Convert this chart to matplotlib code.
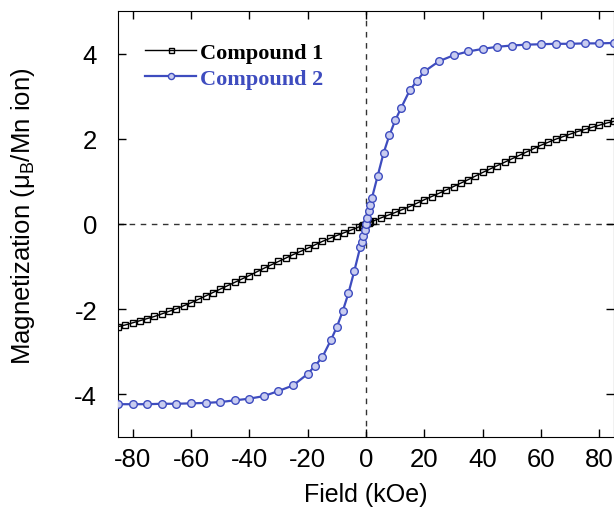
import matplotlib
matplotlib.use("Agg")
import matplotlib.pyplot as plt

plt.rcParams["axes.unicode_minus"] = False

# Compound 1 (black squares)
field_1 = [-85, -82.5, -80, -77.5, -75, -72.5, -70, -67.5, -65, -62.5, -60, -57.5,
           -55, -52.5, -50, -47.5, -45, -42.5, -40, -37.5, -35, -32.5, -30, -27.5,
           -25, -22.5, -20, -17.5, -15, -12.5, -10, -7.5, -5, -2.5, -1.5, -1, -0.5, 0,
           0.5, 1, 1.5, 2.5, 5, 7.5, 10, 12.5, 15, 17.5, 20, 22.5, 25, 27.5, 30, 32.5,
           35, 37.5, 40, 42.5, 45, 47.5, 50, 52.5, 55, 57.5, 60, 62.5, 65, 67.5, 70,
           72.5, 75, 77.5, 80, 82.5, 85]
mag_1 = [-2.41, -2.37, -2.32, -2.27, -2.22, -2.17, -2.11, -2.05, -1.99, -1.92, -1.85, -1.77,
         -1.69, -1.61, -1.53, -1.45, -1.37, -1.29, -1.21, -1.125, -1.04, -0.96, -0.88, -0.80,
         -0.72, -0.645, -0.57, -0.49, -0.41, -0.34, -0.27, -0.205, -0.14, -0.07, -0.04, -0.03, -0.015, 0.0,
         0.015, 0.03, 0.04, 0.07, 0.14, 0.205, 0.27, 0.34, 0.41, 0.49, 0.57, 0.645, 0.72, 0.80, 0.88, 0.96,
         1.04, 1.125, 1.21, 1.29, 1.37, 1.45, 1.53, 1.61, 1.69, 1.77, 1.85, 1.92, 1.99, 2.05, 2.11,
         2.17, 2.22, 2.27, 2.32, 2.37, 2.41]

# Compound 2 (blue circles)
field_2 = [-85, -80, -75, -70, -65, -60, -55, -50, -45, -40, -35, -30, -25, -20, -17.5,
           -15, -12, -10, -8, -6, -4, -2, -1.5, -1, -0.5, 0, 0.5, 1, 1.5, 2, 4, 6, 8,
           10, 12, 15, 17.5, 20, 25, 30, 35, 40, 45, 50, 55, 60, 65, 70, 75, 80, 85]
mag_2 = [-4.23, -4.23, -4.23, -4.22, -4.22, -4.21, -4.20, -4.18, -4.14, -4.10, -4.04, -3.92,
         -3.79, -3.52, -3.33, -3.13, -2.72, -2.42, -2.05, -1.62, -1.10, -0.55, -0.42, -0.28,
         -0.14, 0.0, 0.15, 0.3, 0.45, 0.6, 1.13, 1.66, 2.08, 2.43, 2.72, 3.14, 3.36, 3.58,
         3.82, 3.96, 4.05, 4.11, 4.16, 4.19, 4.21, 4.22, 4.23, 4.23, 4.24, 4.24, 4.25]

labels = ["Compound 1", "Compound 2"]
blue = "#3e4cbf"

fig = plt.figure(figsize=(6.14, 5.10), dpi=100)
ax = fig.add_axes([118 / 614, 72 / 510, 1 - 118 / 614, 426 / 510])

ax.axhline(0, color="#333333", ls=(0, (4, 4)), lw=1, zorder=1)
ax.axvline(0, color="#333333", ls=(0, (4, 4)), lw=1, zorder=1)

ax.plot(field_1, mag_1, color="black", lw=1, marker="s", ms=4.5,
        mfc="none", mec="black", mew=1, label=labels[0], zorder=3)
ax.plot(field_2, mag_2, color=blue, lw=1.6, marker="o", ms=5.5,
        mfc="#c8ccf0", mec=blue, mew=1, label=labels[1], zorder=4)

ax.set_xlim(-85, 85)
ax.set_ylim(-5, 5)
ax.set_xticks([-80, -60, -40, -20, 0, 20, 40, 60, 80])
ax.set_yticks([-4, -2, 0, 2, 4])
ax.tick_params(direction="in", top=True, right=True, length=6, width=1,
               labelsize=18.5)
ax.tick_params(axis="x", pad=7)
ax.tick_params(axis="y", pad=15)
for lab in ax.get_xticklabels() + ax.get_yticklabels():
    lab.set_family("Liberation Sans")

ax.set_xlabel("Field (kOe)", fontsize=18, family="Liberation Sans", labelpad=8)
ax.set_ylabel("Magnetization (μ$_\\mathregular{B}$/Mn ion)", fontsize=18.5,
              family="Liberation Sans")
ax.yaxis.set_label_coords(-0.163, 0.52)

leg = ax.legend(loc="upper left", bbox_to_anchor=(0.055, 0.927), frameon=False,
                borderpad=0, borderaxespad=0, handlelength=2.3, handletextpad=0.15,
                labelspacing=0.25, numpoints=1, markerscale=0.8,
                prop={"family": "Liberation Serif", "weight": "bold", "size": 16})
leg.get_texts()[1].set_color(blue)

plt.savefig("out.png", dpi=100)
